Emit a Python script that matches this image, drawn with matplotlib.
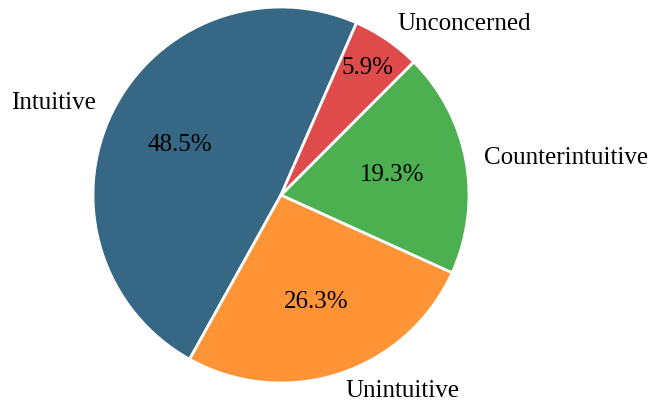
import numpy as np
import matplotlib
matplotlib.use('Agg')
import matplotlib.pyplot as plt

labels = ['Intuitive', 'Unintuitive', 'Counterintuitive', 'Unconcerned']
shares = [48.5, 26.3, 19.3, 5.9]
colors = ['#366785', '#FE9436', '#4CAF50', '#DF4B4B']

plt.rcParams['font.family'] = ['Liberation Serif', 'DejaVu Serif']

fig = plt.figure(figsize=(6.52, 4.07), dpi=100)
cx, cy = 281 / 652, 1 - 195 / 407
rw, rh = 188 / 652, 188 / 407
ax = fig.add_axes([cx - rw, cy - rh, 2 * rw, 2 * rh])

wedges, texts, autotexts = ax.pie(
    shares, labels=labels, colors=colors, autopct='%1.1f%%',
    startangle=66.3, counterclock=True, pctdistance=0.6,
    labeldistance=1.1,
    wedgeprops={'edgecolor': 'white', 'linewidth': 2},
    textprops={'fontsize': 18})

# small slice: push its percentage further out
w = wedges[-1]
mid = np.deg2rad((w.theta1 + w.theta2) / 2)
autotexts[-1].set_position((0.82 * np.cos(mid), 0.82 * np.sin(mid)))

ax.set_xlim(-1, 1)
ax.set_ylim(-1, 1)
ax.set_aspect('equal')

fig.savefig('out.png', dpi=100)
